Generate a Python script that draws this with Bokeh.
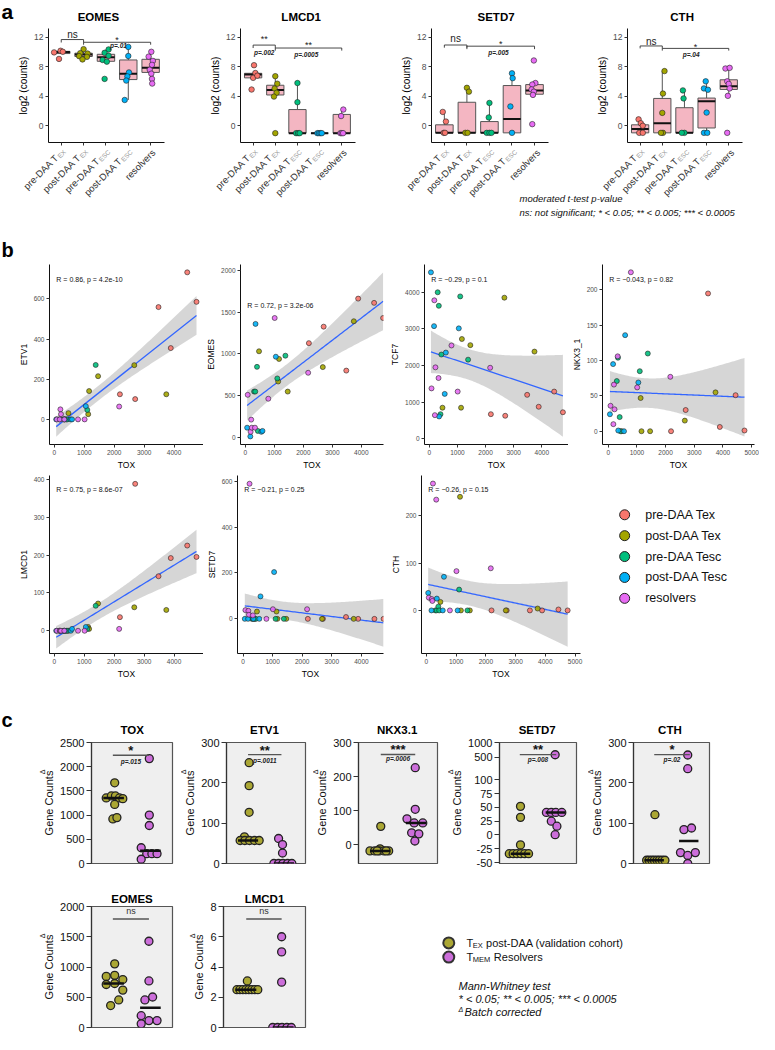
import numpy as np
from math import pi
from bokeh.plotting import figure
from bokeh.layouts import column, row
from bokeh.models import Label, FixedTicker, Range1d, Title
from bokeh.embed import file_html
from bokeh.resources import INLINE

FONT = "Liberation Sans"

# ======================= DATA =======================
# ---- panel a : log2 (counts) per group ----
A_GENES = ["EOMES", "LMCD1", "SETD7", "CTH"]
A_GROUP_MAIN = ["pre-DAA T", "post-DAA T", "pre-DAA T", "post-DAA T", "resolvers"]
A_GROUP_SUB = ["EX", "EX", "ESC", "ESC", ""]
GROUP_COLORS = ["#F8766D", "#A3A500", "#00BF7D", "#00B0F6", "#E76BF3"]
A_YTICKS = [0, 4, 8, 12]

A_EOMES_VALS = [[10.18, 9.96, 10.04, 9.07],
                [10.4, 9.85, 9.8, 9.45, 9.35, 9.0],
                [10.36, 9.9, 9.5, 8.93, 8.7, 6.36],
                [10.7, 9.47, 7.24, 6.7, 6.13, 3.5],
                [10.04, 9.38, 8.8, 8.27, 7.6, 7.07, 6.36, 5.73]]
A_EOMES_OFFS = [[-0.03, -0.32, 0.07, -0.1],
                [0.0, -0.15, 0.18, -0.2, 0.15, -0.05],
                [0.12, -0.06, 0.12, -0.15, 0.04, -0.06],
                [0.0, 0.0, 0.03, -0.04, -0.09, -0.16],
                [0.03, -0.09, 0.1, 0.06, -0.04, 0.03, 0.06, 0.07]]
A_EOMES_BOX = [[9.8, 9.8, 10.0, 10.1, 10.18],      # lower whisker, q1, median, q3, upper whisker
               [9.0, 9.4, 9.68, 9.85, 10.4],
               [8.7, 8.75, 9.3, 9.7, 10.36],
               [3.5, 6.27, 7.07, 8.93, 10.7],
               [5.73, 7.24, 7.87, 9.02, 10.04]]
A_EOMES_SIG = [(1, 2, 11.7, 11.3, "ns", 12.4, "", 0, 0),
               (2, 5, 11.33, 11.0, "*", 11.95, "p=.01", 3.56, 10.85)]

A_LMCD1_VALS = [[8.22, 7.16, 6.5, 4.92, 6.8],
                [6.73, 5.71, 5.05, 4.48, 3.96, -1.0],
                [5.8, 3.2, -1.0, -1.0, -1.0],
                [-1.0, -1.0, -1.0, -1.0],
                [2.2, 1.32, -1.0, -1.0, -1.0]]
A_LMCD1_OFFS = [[0.04, 0.1, 0.0, -0.07, 0.19],
                [0.0, 0.09, -0.03, 0.06, -0.06, 0.0],
                [0.0, 0.0, -0.06, 0.03, 0.1],
                [-0.1, -0.03, 0.04, 0.1],
                [0.07, -0.03, -0.06, 0.0, 0.06]]
A_LMCD1_BOX = [[6.5, 6.5, 6.95, 7.12, 7.16],
               [3.96, 4.18, 4.84, 5.5, 6.73],
               [-1.0, -1.0, -1.0, 2.2, 5.8],
               [-1.0, -1.0, -1.0, -1.0, -1.0],
               [-1.0, -1.0, -1.0, 1.54, 2.2]]
A_LMCD1_SIG = [(1, 2, 10.95, 10.55, "**", 12.1, "p=.002", 1.5, 9.9),
               (2, 5, 10.55, 10.2, "**", 11.2, "p=.0005", 3.4, 9.67)]

A_SETD7_VALS = [[1.88, 0.57, -0.96, -0.96],
                [5.15, 4.63, -0.96, -0.96],
                [3.1, 1.13, -0.96, -0.96, -0.96],
                [7.12, 6.46, 2.62, -0.96],
                [8.86, 5.8, 5.6, 4.93, 4.63, 4.19, 0.22]]
A_SETD7_OFFS = [[-0.07, 0.07, -0.03, 0.03],
                [0.0, 0.09, -0.07, 0.03],
                [0.0, -0.03, -0.12, 0.0, 0.09],
                [0.0, 0.03, -0.07, 0.0],
                [-0.03, 0.04, -0.1, -0.13, -0.03, -0.07, -0.1]]
A_SETD7_BOX = [[-0.96, -0.96, -0.96, 0.13, 1.88],
               [-0.96, -0.96, -0.96, 3.19, 5.15],
               [-0.96, -0.96, -0.96, 0.57, 3.1],
               [-0.96, -0.96, 0.92, 5.46, 7.12],
               [4.19, 4.28, 4.8, 5.59, 5.8]]
A_SETD7_SIG = [(1, 2, 10.96, 10.6, "ns", 11.8, "", 0, 0),
               (2, 5, 10.8, 10.4, "*", 11.4, "p=.005", 3.4, 9.96)]

A_CTH_VALS = [[0.87, 0.35, 0.0, -0.96, -0.96],
              [7.42, 4.37, 1.75, -0.96, -0.96],
              [4.8, 3.71, -0.96, -0.96],
              [6.03, 5.07, 4.89, 1.79, -0.96, -0.96],
              [7.77, 7.86, 6.03, 5.68, 5.07, 4.06, -0.96]]
A_CTH_OFFS = [[-0.07, 0.03, 0.12, -0.04, 0.12],
              [0.1, 0.03, 0.0, 0.03, -0.06],
              [-0.07, -0.04, 0.0, -0.12],
              [-0.04, -0.12, 0.06, 0.0, -0.12, 0.03],
              [-0.15, 0.04, -0.07, 0.0, 0.04, -0.04, -0.07]]
A_CTH_BOX = [[-0.96, -0.96, -0.44, 0.13, 0.87],
             [-0.96, -0.96, 0.35, 3.71, 7.42],
             [-0.96, -0.96, -0.96, 2.45, 4.8],
             [-0.96, -0.3, 3.32, 3.76, 6.03],
             [4.06, 4.93, 5.37, 6.24, 7.86]]
A_CTH_SIG = [(1, 2, 10.83, 10.5, "ns", 11.5, "", 0, 0),
             (2, 5, 10.5, 10.2, "*", 11.05, "p=.04", 3.3, 9.65)]

# ---- panel b : counts vs TOX, one entry per sample ----
B_LEGEND = ["pre-DAA Tex", "post-DAA Tex", "pre-DAA Tesc", "post-DAA Tesc", "resolvers"]
B_GROUP = ["pre-DAA Tex"] * 6 + ["post-DAA Tex"] * 6 + ["pre-DAA Tesc"] * 6 + ["post-DAA Tesc"] * 6 + ["resolvers"] * 8
B_TOX = [2190, 2700, 3480, 3890, 4440, 4750, 470, 1130, 1160, 1460, 2670, 3740,
         300, 340, 400, 430, 1100, 1380, 60, 170, 350, 550, 590, 1050,
         80, 180, 200, 220, 330, 790, 1010, 2165]
B_ETV1 = [125, 101, 559, 355, 732, 585, 31, 26, 141, 215, 270, 125,
          0, 0, 0, 0, 47, 271, 0, 0, 0, 0, 0, 66,
          0, 0, 50, 26, 0, 0, 0, 64]
B_EOMES = [1128, 1326, 798, 1663, 1612, 1430, 1030, 667, 938, 546, 840, 1391,
           546, 546, 843, 73, 704, 977, 112, 7, 1359, 62, 73, 965,
           507, 62, 209, 112, 112, 460, 1430, 772]
B_TCF7 = [676, 633, 1204, 879, 1293, 729, 853, 853, 2726, 2559, 3852, 2383,
          4000, 3631, 676, 2303, 3887, 2163, 4543, 3077, 615, 1230, 2356, 3016,
          1380, 3781, 650, 1953, 1662, 2549, 1293, 1942]
B_NKX3_1 = [0, 30, 195, 6, 51, 1, 0, 47, 0, 0, 15, 55,
            71, 104, 20, 0, 85, 110, 24, 95, 1, 0, 136, 69,
            36, 10, 66, 31, 106, 225, 62, 77]
B_LMCD1 = [36, 388, 144, 192, 225, 195, 0, 10, 5, 72, 62, 55,
           0, 0, 0, 0, 5, 66, 0, 0, 0, 0, 5, 10,
           0, 0, 0, 0, 0, 0, 0, 5]
B_SETD7 = [0, 0, 8, 0, 0, 0, 32, 32, 0, 0, 0, 0,
           0, 0, 0, 0, 0, 0, 0, 0, 0, 0, 98, 204,
           38, 35, 18, 589, 15, 0, 42, 42]
B_CTH = [0, 0, 0, 0, 2, 0, 18, 240, 0, 0, 0, 4,
         0, 0, 8, 0, 44, 0, 37, 0, 25, 0, 71, 0,
         27, 24, 20, 268, 234, 0, 83, 89]
B_R_TEXT = {"ETV1": "R = 0.86, p = 4.2e-10", "EOMES": "R = 0.72, p = 3.2e-06",
            "TCF7": "R = \u22120.29, p = 0.1", "NKX3_1": "R = \u22120.043, p = 0.82",
            "LMCD1": "R = 0.75, p = 8.6e-07", "SETD7": "R = \u22120.21, p = 0.25",
            "CTH": "R = \u22120.26, p = 0.15"}

# ---- panel c : validation cohort (Tex post-DAA vs Tmem resolvers) ----
C_COL_EX = "#ABA734"
C_COL_RES = "#CC6EDA"
C_TOX_EX = [1667, 1355, 1396, 1396, 1355, 1340, 1220, 920, 948]
C_TOX_EX_OFF = [0.03, -0.2, -0.06, 0.05, 0.16, 0.25, 0.03, -0.02, 0.09]
C_TOX_RES = [2167, 1000, 785, 325, 203, 203, 203, 88]
C_TOX_RES_OFF = [-0.03, -0.03, -0.03, -0.25, -0.1, 0.04, 0.18, -0.25]
C_ETV1_EX = [250, 193, 127, 66, 57, 57, 57, 57, 57]
C_ETV1_EX_OFF = [0.03, 0.03, 0.03, -0.1, -0.22, -0.09, 0.04, 0.18, 0.31]
C_ETV1_RES = [62, 47, 26, 0, 0, 0, 0, 0]
C_ETV1_RES_OFF = [-0.15, -0.04, -0.04, -0.28, -0.15, -0.03, 0.1, 0.22]
C_NKX_EX = [54, -12, -18, -18, -18, -18, -18, -18, -18]
C_NKX_EX_OFF = [0.02, 0.0, -0.28, -0.15, -0.02, 0.11, 0.24, -0.08, 0.17]
C_NKX_RES = [226, 104, 76, 64, 64, 35, 32, 11]
C_NKX_RES_OFF = [-0.02, -0.02, -0.25, 0.19, -0.05, -0.12, 0.08, -0.03]
C_SETD7_EX = [52, 32, -18, -34, -34, -34, -34, -34, -34]
C_SETD7_EX_OFF = [0.0, 0.0, 0.0, -0.32, -0.21, -0.1, 0.01, 0.12, 0.23]
C_SETD7_RES = [588, 41, 41, 41, 41, 25, 16, 0.5]
C_SETD7_RES_OFF = [-0.01, -0.26, -0.12, 0.01, 0.18, -0.12, 0.04, -0.01]
C_CTH_EX = [121, 8, 8, 8, 8, 8, 8, 8, 8]
C_CTH_EX_OFF = [0.02, -0.22, -0.15, -0.07, 0.0, 0.08, 0.15, 0.23, 0.31]
C_CTH_RES = [269, 235, 84, 88, 27, 20, 27, 0]
C_CTH_RES_OFF = [-0.03, -0.03, -0.14, 0.08, -0.24, -0.03, 0.19, -0.03]
C_EOMES_EX = [1052, 845, 862, 792, 711, 727, 618, 455, 363]
C_EOMES_EX_OFF = [0.03, -0.2, 0.03, 0.25, -0.2, 0.03, 0.25, 0.14, -0.08]
C_EOMES_RES = [1426, 770, 504, 455, 195, 114, 114, 60]
C_EOMES_RES_OFF = [-0.04, -0.04, 0.06, -0.15, -0.25, -0.04, 0.18, -0.25]
C_LMCD1_EX = [3.08, 2.5, 2.5, 2.5, 2.5, 2.5, 2.5, 2.5, 2.5]
C_LMCD1_EX_OFF = [0.04, -0.24, -0.16, -0.08, 0.0, 0.08, 0.16, 0.24, 0.32]
C_LMCD1_RES = [6, 5, 3, 0, 0, 0, 0, 0]
C_LMCD1_RES_OFF = [-0.04, -0.04, -0.04, -0.28, -0.15, -0.03, 0.1, 0.22]
C_SETD7_TICKS = [-50, -25, 0, 25, 50, 75, 100, 500, 1000]

# ======================= LAYOUT HELPERS =======================
SX = 759 / 775
SY = 1034 / 1050


def sx(v):
    return int(round(v * SX))


def sy(v):
    return int(round(v * SY))


CHAR_W = {"E": 0.667, "X": 0.667, "S": 0.667, "C": 0.722, "M": 0.833}


def sub_width(s, size):
    return sum(CHAR_W.get(c, 0.6) for c in s) * size


class Panel:
    def __init__(self, box, frame, xr, yr, axes=True, title=None):
        X0, Y0, X1, Y1 = box
        FX0, FY0, FX1, FY1 = frame
        self.frame = frame
        self.xr, self.yr = xr, yr
        kw = {}
        if not axes:
            kw = dict(x_axis_type=None, y_axis_type=None)
        self.p = figure(width=sx(X1) - sx(X0), height=sy(Y1) - sy(Y0),
                        x_range=Range1d(*xr), y_range=Range1d(*yr),
                        output_backend="svg", toolbar_location=None, title=title,
                        min_border_left=sx(FX0) - sx(X0), min_border_right=sx(X1) - sx(FX1),
                        min_border_top=sy(FY0) - sy(Y0), min_border_bottom=sy(Y1) - sy(FY1),
                        **kw)
        self.p.grid.visible = False
        self.p.outline_line_color = None
        self.p.background_fill_color = "white"
        self.p.border_fill_color = "white"
        if title is not None:
            t = self.p.title
            t.text_font = FONT
            t.text_font_style = "bold"
            t.text_color = "#000000"

    def dx(self, X):
        FX0, FY0, FX1, FY1 = self.frame
        return self.xr[0] + (X - FX0) / (FX1 - FX0) * (self.xr[1] - self.xr[0])

    def dy(self, Y):
        FX0, FY0, FX1, FY1 = self.frame
        return self.yr[0] + (FY1 - Y) / (FY1 - FY0) * (self.yr[1] - self.yr[0])

    def px(self, v):
        FX0, FY0, FX1, FY1 = self.frame
        return FX0 + (v - self.xr[0]) / (self.xr[1] - self.xr[0]) * (FX1 - FX0)

    def py(self, v):
        FX0, FY0, FX1, FY1 = self.frame
        return FY1 - (v - self.yr[0]) / (self.yr[1] - self.yr[0]) * (FY1 - FY0)

    def lab(self, X, Y, text, size, color="#000000", style="normal", align="left",
            baseline="middle", angle=0.0):
        self.p.add_layout(Label(x=self.dx(X), y=self.dy(Y), text=text, text_font=FONT,
                                text_font_size=f"{size}px", text_font_style=style,
                                text_color=color, text_align=align, text_baseline=baseline,
                                angle=angle))


def text_panel(box):
    X0, Y0, X1, Y1 = box
    return Panel(box, box, (X0, X1), (Y1, Y0), axes=False)


def style_axes(p, xticks, yticks, tick_size, tick_color, label_size):
    for ax in (p.xaxis[0], p.yaxis[0]):
        ax.axis_line_color = "#111111"
        ax.axis_line_width = 1
        ax.major_tick_line_color = "#333333"
        ax.major_tick_out = 3
        ax.major_tick_in = 0
        ax.minor_tick_line_color = None
        ax.major_label_text_font = FONT
        ax.major_label_text_font_size = f"{tick_size}px"
        ax.major_label_text_color = tick_color
        ax.major_label_standoff = 2
        ax.axis_label_text_font = FONT
        ax.axis_label_text_font_style = "normal"
        ax.axis_label_text_font_size = f"{label_size}px"
        ax.axis_label_text_color = "#000000"
        ax.axis_label_standoff = 2
    p.xaxis.ticker = FixedTicker(ticks=xticks)
    p.yaxis.ticker = FixedTicker(ticks=yticks)


# ======================= PANEL a =======================
A_TOP, A_BOT = 24, 149
A_BOXES = [(0, A_TOP, 197, A_BOT), (197, A_TOP, 393, A_BOT), (393, A_TOP, 590, A_BOT), (590, A_TOP, 775, A_BOT)]
A_FRAMES = [(49, 28, 167, 144), (245, 28, 362, 144), (440, 28, 560, 144), (640, 28, 758, 144)]
A_TITLE_CX = [100, 307, 506, 696]
A_XR = (0.43, 5.62)
A_YR = (-2.27, 13.2)
BOX_HALF = 0.39
A_DATA = {"EOMES": (A_EOMES_VALS, A_EOMES_OFFS, A_EOMES_BOX, A_EOMES_SIG),
          "LMCD1": (A_LMCD1_VALS, A_LMCD1_OFFS, A_LMCD1_BOX, A_LMCD1_SIG),
          "SETD7": (A_SETD7_VALS, A_SETD7_OFFS, A_SETD7_BOX, A_SETD7_SIG),
          "CTH": (A_CTH_VALS, A_CTH_OFFS, A_CTH_BOX, A_CTH_SIG)}

S0 = text_panel((0, 0, 775, A_TOP))      # "a" and the gene titles
S0.lab(1, 11, "a", 21, style="bold")
S1 = text_panel((0, A_BOT, 775, 265))    # group labels, notes, "b"

a_figs = []
for gi, gene in enumerate(A_GENES):
    vals, offs, boxes, sigs = A_DATA[gene]
    P = Panel(A_BOXES[gi], A_FRAMES[gi], A_XR, A_YR)
    p = P.p
    S0.lab(A_TITLE_CX[gi], 16.5, gene, 11.5, style="bold", align="center")
    style_axes(p, [1, 2, 3, 4, 5], A_YTICKS, 8.5, "#4D4D4D", 10)
    p.yaxis.axis_label = "log2 (counts)"
    p.xaxis.major_label_overrides = {i: "" for i in range(1, 6)}
    p.xaxis.major_label_text_font_size = "0px"
    p.xaxis.major_label_standoff = 0
    xs = np.arange(1, 6, dtype=float)
    bx = np.array(boxes, dtype=float)
    p.segment(x0=xs, y0=bx[:, 0], x1=xs, y1=bx[:, 4], line_color="#555555", line_width=1)
    p.quad(left=xs - BOX_HALF, right=xs + BOX_HALF, bottom=bx[:, 1], top=bx[:, 3],
           fill_color="#F4B6C2", line_color="#555555", line_width=1)
    p.segment(x0=xs - BOX_HALF, y0=bx[:, 2], x1=xs + BOX_HALF, y1=bx[:, 2],
              line_color="#111111", line_width=2)
    for k in range(5):
        p.scatter(x=(k + 1) + np.array(offs[k]), y=vals[k], size=5.5,
                  fill_color=GROUP_COLORS[k], line_color="#222222", line_width=0.6)
    for (x1, x2, yb, tip, mark, mark_y, ptxt, p_x, p_y) in sigs:
        p.line(x=[x1, x1, x2, x2], y=[tip, yb, yb, tip], line_color="#333333", line_width=0.9)
        cx = (x1 + x2) / 2
        if mark == "ns":
            P.lab(P.px(cx), P.py(mark_y), "ns", 10, color="#222222", align="center")
        else:
            P.lab(P.px(cx), P.py(mark_y) + 2.2, mark, 9, color="#222222", align="center")
        if ptxt:
            P.lab(P.px(p_x), P.py(p_y), ptxt, 6.5, color="#222222", style="bold italic",
                  align="center")
    # rotated group labels (with subscripts) drawn in the strip below
    for k in range(5):
        tx = P.px(k + 1) + 3.5
        ty = 152.5
        sub = A_GROUP_SUB[k]
        if sub:
            w = sub_width(sub, 6.5) + 0.6
            S1.lab(tx, ty, sub, 6.5, color="#9A9A9A", align="right", angle=pi / 4)
            mx = tx - 0.707 * w - 1.4
            my = ty + 0.707 * w - 1.4
        else:
            mx, my = tx, ty
        S1.lab(mx, my, A_GROUP_MAIN[k], 9.5, color="#333333", align="right", angle=pi / 4)
    a_figs.append(p)

S1.lab(530, 201, "moderated t-test p-value", 9.5, color="#111111", style="italic")
S1.lab(530, 215, "ns: not significant; * < 0.05; ** < 0.005; *** < 0.0005", 9.5,
       color="#111111", style="italic")
S1.lab(1, 253, "b", 20, style="bold")

# ======================= PANEL b =======================
B_SPECS = [
    ("ETV1", B_ETV1, (0, 265, 207, 479), (50, 268, 207, 454), (-164, 4984), (-125, 771), [0, 200, 400, 600], (57, 283)),
    ("EOMES", B_EOMES, (207, 265, 395, 479), (245, 268, 391, 454), (-169, 4764), (-90, 2073), [0, 500, 1000, 1500, 2000], (252, 310)),
    ("TCF7", B_TCF7, (395, 265, 580, 479), (429, 268, 580, 454), (-169, 4949), (-150, 4757), [0, 1000, 2000, 3000, 4000], (436, 283)),
    ("NKX3_1", B_NKX3_1, (580, 265, 775, 479), (610, 268, 770, 454), (-199, 5099), (-18.8, 236), [0, 50, 100, 150, 200], (617, 283)),
    ("LMCD1", B_LMCD1, (0, 479, 207, 692), (50, 482, 207, 667), (-164, 4984), (-60, 410), [0, 100, 200, 300, 400], (57, 497)),
    ("SETD7", B_SETD7, (207, 479, 395, 692), (241, 482, 391, 667), (-187, 4747), (-151, 625), [0, 200, 400, 600], (248, 497)),
    ("CTH", B_CTH, (395, 479, 600, 692), (430, 482, 592, 667), (-165, 5182), (-91, 285), [0, 100, 200], (437, 497)),
]
B_XTICKS = [0, 1000, 2000, 3000, 4000, 5000]
T975 = 2.04


def lm_band(x, y, n=90):
    x = np.asarray(x, float)
    y = np.asarray(y, float)
    b, a = np.polyfit(x, y, 1)
    grid = np.linspace(x.min(), x.max(), n)
    fit = a + b * grid
    resid = y - (a + b * x)
    s = np.sqrt((resid ** 2).sum() / (len(x) - 2))
    sxx = ((x - x.mean()) ** 2).sum()
    se = s * np.sqrt(1.0 / len(x) + (grid - x.mean()) ** 2 / sxx)
    return grid, fit, fit - T975 * se, fit + T975 * se


b_figs = []
tox = np.array(B_TOX, float)
colors_b = [GROUP_COLORS[B_LEGEND.index(g)] for g in B_GROUP]
for (gene, vals, box, frame, xr, yr, yt, rpos) in B_SPECS:
    P = Panel(box, frame, xr, yr)
    p = P.p
    style_axes(p, B_XTICKS, yt, 6.5, "#4D4D4D", 8.5)
    p.xaxis.axis_label = "TOX"
    p.yaxis.axis_label = gene
    grid, fit, lo, hi = lm_band(tox, vals)
    p.varea(x=grid, y1=lo, y2=hi, fill_color="#999999", fill_alpha=0.4)
    p.line(grid, fit, line_color="#3366FF", line_width=1.3)
    p.scatter(x=tox, y=vals, size=5, fill_color=colors_b, fill_alpha=0.9,
              line_color="#222222", line_width=0.6)
    P.lab(rpos[0], rpos[1], B_R_TEXT[gene], 7, color="#111111")
    b_figs.append(p)

LB = text_panel((600, 479, 775, 692))
leg_y = [526, 551, 576, 601, 626]
LB.p.scatter(x=[637] * 5, y=leg_y, size=10, fill_color=GROUP_COLORS,
             line_color="#222222", line_width=1)
for k, name in enumerate(B_LEGEND):
    LB.lab(658, leg_y[k], name, 12.5, color="#111111")

# ======================= PANEL c =======================
C_XR = (0.4, 2.6)
C_TOP1 = 747
S2 = text_panel((0, 692, 775, C_TOP1))   # "c" and first-row titles
S2.lab(1, 730, "c", 20, style="bold")
GC_SIZE = 11


def setd7_t(v):
    v = np.asarray(v, float)
    return np.where(v <= 100, v, 141 + (v - 500) * 27.0 / 500.0)


C_SPECS = [
    ("TOX", C_TOX_EX, C_TOX_EX_OFF, C_TOX_RES, C_TOX_RES_OFF, (0, C_TOP1, 185, 897), (93, 753, 176, 876), (0, 2500), [0, 500, 1000, 1500, 2000, 2500],
     ((0.98, 1.96), 2236, "*", 758, "p=.015", 772)),
    ("ETV1", C_ETV1_EX, C_ETV1_EX_OFF, C_ETV1_RES, C_ETV1_RES_OFF, (185, C_TOP1, 320, 897), (228, 753, 311, 876), (0, 300), [0, 100, 200, 300],
     ((1.0, 1.93), 270, "**", 758, "p=.0011", 771)),
    ("NKX3.1", C_NKX_EX, C_NKX_EX_OFF, C_NKX_RES, C_NKX_RES_OFF, (320, C_TOP1, 457, 897), (364, 753, 446, 876), (-55, 300), [0, 100, 200, 300],
     ((1.02, 1.98), 265, "***", 757, "p=.0006", 769)),
    ("SETD7", C_SETD7_EX, C_SETD7_EX_OFF, C_SETD7_RES, C_SETD7_RES_OFF, (457, C_TOP1, 600, 897), (508, 753, 588, 876), (-51.8, 168), None,
     ((0.98, 2.02), 146, "**", 757, "p=.008", 770)),
    ("CTH", C_CTH_EX, C_CTH_EX_OFF, C_CTH_RES, C_CTH_RES_OFF, (600, C_TOP1, 775, 897), (643, 753, 724, 876), (0, 300), [0, 100, 200, 300],
     ((1.0, 2.03), 270, "*", 757, "p=.02", 770)),
    ("EOMES", C_EOMES_EX, C_EOMES_EX_OFF, C_EOMES_RES, C_EOMES_RES_OFF, (0, 897, 185, 1050), (93, 920, 176, 1043), (0, 2000), [0, 500, 1000, 1500, 2000],
     ((0.98, 1.96), 1793, "ns", 925, "", 0)),
    ("LMCD1", C_LMCD1_EX, C_LMCD1_EX_OFF, C_LMCD1_RES, C_LMCD1_RES_OFF, (185, 897, 320, 1050), (228, 920, 311, 1043), (0, 8), [0, 2, 4, 6, 8],
     ((1.01, 1.96), 7.17, "ns", 925, "", 0)),
]

c_figs = []
for ci, (gene, ex, exo, res, reso, box, frame, yr, yt, sig) in enumerate(C_SPECS):
    first_row = ci < 5
    P = Panel(box, frame, C_XR, yr, title=None if first_row else gene)
    p = P.p
    if first_row:
        S2.lab((frame[0] + frame[2]) / 2, 740, gene, 11.5, style="bold", align="center")
    else:
        p.title.align = "center"
        p.title.text_font_size = "11.5px"
        p.title.standoff = 4
    tr = setd7_t if gene == "SETD7" else (lambda v: np.asarray(v, float))
    if yt is None:
        yt_t = [float(setd7_t(v)) for v in C_SETD7_TICKS]
        style_axes(p, [1, 2], yt_t, 11, "#111111", GC_SIZE)
        p.yaxis.major_label_overrides = {t: str(v) for t, v in zip(yt_t, C_SETD7_TICKS)}
    else:
        style_axes(p, [1, 2], yt, 11, "#111111", GC_SIZE)
    p.xaxis.visible = False
    p.yaxis.major_tick_out = 5
    p.yaxis.axis_line_color = "#333333"
    p.yaxis.axis_line_width = 1.2
    p.yaxis.axis_label = "Gene Counts"
    p.yaxis.axis_label_text_color = "#111111"
    fh = sy(frame[3]) - sy(frame[1])
    p.add_layout(Title(text="\u0394", align="right", offset=fh / 2 - 5.892 * GC_SIZE / 2 - 1,
                       text_font=FONT, text_font_size="7px", text_font_style="normal",
                       text_color="#111111", standoff=-10), "left")
    p.background_fill_color = "#EFEFEF"
    p.outline_line_color = "#555555"
    p.outline_line_width = 1.2
    p.scatter(x=1 + np.array(exo), y=tr(ex), size=8, fill_color=C_COL_EX,
              line_color="#222222", line_width=1.3)
    p.scatter(x=2 + np.array(reso), y=tr(res), size=8, fill_color=C_COL_RES,
              line_color="#222222", line_width=1.3)
    for gx, vals in ((1, ex), (2, res)):
        m = float(tr(np.median(vals)))
        p.segment(x0=[gx - 0.28], y0=[m], x1=[gx + 0.28], y1=[m], line_color="#111111", line_width=2.5)
    (bx1, bx2), by, mark, mark_Y, ptxt, p_Y = sig
    p.segment(x0=[bx1], y0=[by], x1=[bx2], y1=[by], line_color="#555555", line_width=1.4)
    cxp = P.px((bx1 + bx2) / 2)
    if mark == "ns":
        P.lab(cxp, mark_Y, "ns", 9, color="#333333", align="center")
    else:
        P.lab(cxp, mark_Y + 3.5, mark, 13, color="#111111", style="bold", align="center")
    if ptxt:
        P.lab(cxp, p_Y, ptxt, 6.5, color="#222222", style="bold italic", align="center")
    c_figs.append(p)

LC = text_panel((320, 897, 775, 1050))
LC.p.scatter(x=[458, 458], y=[943, 961], size=11, fill_color=[C_COL_EX, C_COL_RES],
             line_color="#333333", line_width=2)
LC.lab(476, 943, "T", 11, color="#111111")
LC.lab(482.5, 946, "EX", 7.5, color="#111111")
LC.lab(496, 943, "post-DAA (validation cohort)", 11, color="#111111")
LC.lab(476, 961, "T", 11, color="#111111")
LC.lab(482.5, 964, "MEM", 7.5, color="#111111")
LC.lab(504, 961, "Resolvers", 11, color="#111111")
LC.lab(468, 998, "Mann-Whitney test", 11, color="#111111", style="italic")
LC.lab(468, 1014, "* < 0.05; ** < 0.005; *** < 0.0005", 11, color="#111111", style="italic")
LC.lab(468, 1027, "\u0394", 7, color="#111111", style="italic")
LC.lab(474, 1030, "Batch corrected", 11, color="#111111", style="italic")

layout = column(
    S0.p,
    row(*a_figs),
    S1.p,
    row(*b_figs[:4]),
    row(*b_figs[4:], LB.p),
    S2.p,
    row(*c_figs[:5]),
    row(*c_figs[5:], LC.p),
)

open("out.html", "w").write(file_html(layout, INLINE))
